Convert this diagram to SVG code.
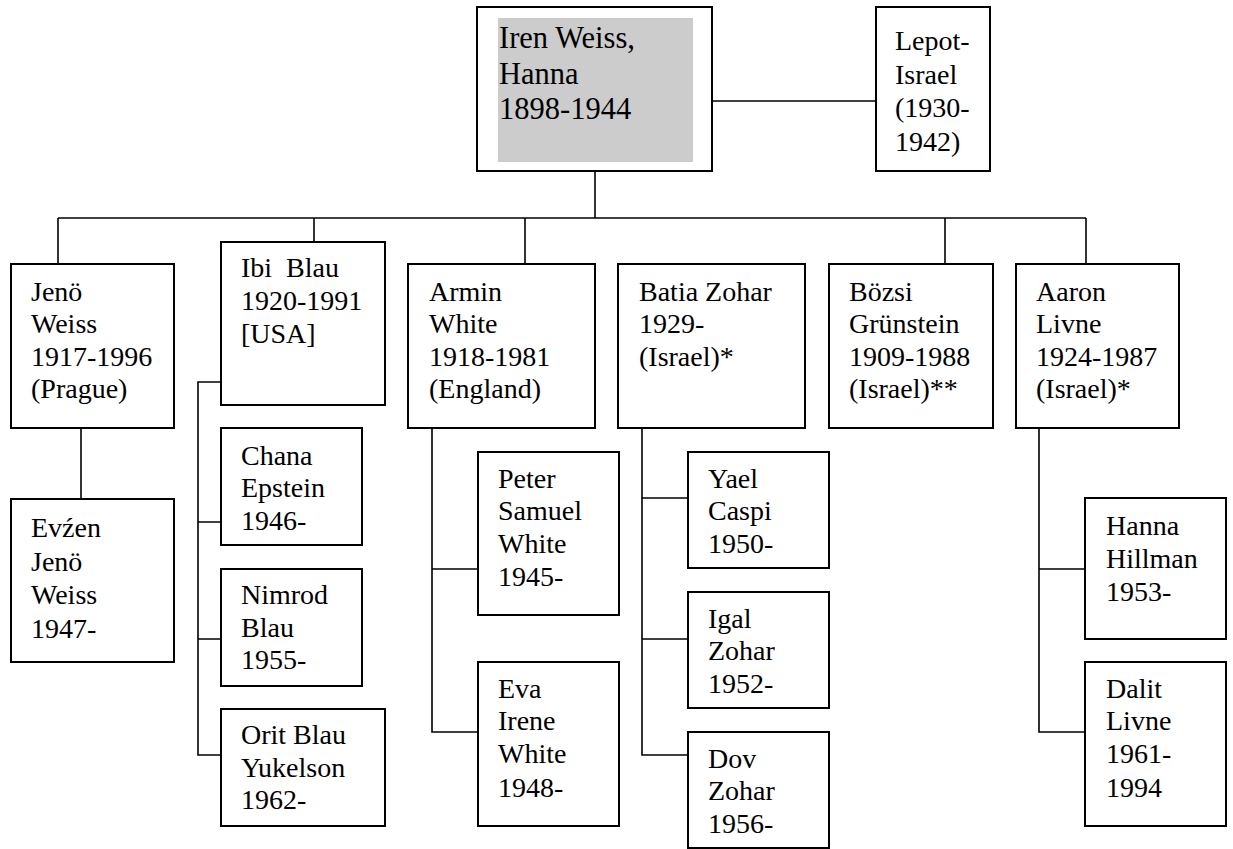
<svg xmlns="http://www.w3.org/2000/svg" width="1233" height="849" viewBox="0 0 1233 849">
<style>
.box{fill:#fff;stroke:#000;stroke-width:2}
.ln{fill:none;stroke:#000;stroke-width:1.6}
text{font-family:"Liberation Serif","Times New Roman",serif;font-size:28px;fill:#000}
.big{font-size:30.5px}
</style>
<rect width="1233" height="849" fill="#fff"/>
<g id="connectors">
<path class="ln" d="M712 101H876"/>
<path class="ln" d="M595 172V218"/>
<path class="ln" d="M58 218H1086"/>
<path class="ln" d="M58 218V264"/>
<path class="ln" d="M314 218V242"/>
<path class="ln" d="M525 218V264"/>
<path class="ln" d="M945 218V264"/>
<path class="ln" d="M1086 218V264"/>
<path class="ln" d="M81 428V499"/>
<path class="ln" d="M221 382H198V755H221M198 522H221M198 639H221"/>
<path class="ln" d="M432 428V732H478M432 569H478"/>
<path class="ln" d="M642 428V755H688M642 498H688M642 639H688"/>
<path class="ln" d="M1039 428V732H1085M1039 569H1085"/>
</g>
<g id="iren">
<rect class="box" x="477" y="7" width="235" height="164"/>
<rect x="498" y="18" width="195" height="144" fill="#cccccc"/>
<text class="big" x="499" y="48"><tspan x="499">Iren Weiss,</tspan><tspan x="499" dy="35.5">Hanna</tspan><tspan x="499" dy="35.5">1898-1944</tspan></text>
</g>
<g id="lepot">
<rect class="box" x="876" y="7" width="114" height="164"/>
<text x="895" y="50"><tspan x="895">Lepot-</tspan><tspan x="895" dy="33.5">Israel</tspan><tspan x="895" dy="33.5">(1930-</tspan><tspan x="895" dy="33.5">1942)</tspan></text>
</g>
<g id="jeno">
<rect class="box" x="11" y="264" width="163" height="164"/>
<text x="31" y="300.5"><tspan x="31">Jenö</tspan><tspan x="31" dy="32.5">Weiss</tspan><tspan x="31" dy="32.5">1917-1996</tspan><tspan x="31" dy="32.5">(Prague)</tspan></text>
</g>
<g id="evzen">
<rect class="box" x="11" y="499" width="163" height="163"/>
<text x="31" y="537"><tspan x="31">Evźen</tspan><tspan x="31" dy="33.5">Jenö</tspan><tspan x="31" dy="33.5">Weiss</tspan><tspan x="31" dy="34">1947-</tspan></text>
</g>
<g id="ibi">
<rect class="box" x="221" y="242" width="164" height="163"/>
<text x="241" y="277" xml:space="preserve"><tspan x="241">Ibi  Blau</tspan><tspan x="241" dy="33">1920-1991</tspan><tspan x="241" dy="33">[USA]</tspan></text>
</g>
<g id="chana">
<rect class="box" x="221" y="428" width="141" height="117"/>
<text x="241" y="464.5"><tspan x="241">Chana</tspan><tspan x="241" dy="32.5">Epstein</tspan><tspan x="241" dy="32.5">1946-</tspan></text>
</g>
<g id="nimrod">
<rect class="box" x="221" y="569" width="141" height="117"/>
<text x="241" y="604"><tspan x="241">Nimrod</tspan><tspan x="241" dy="32.5">Blau</tspan><tspan x="241" dy="32.5">1955-</tspan></text>
</g>
<g id="orit">
<rect class="box" x="221" y="709" width="164" height="117"/>
<text x="241" y="744"><tspan x="241">Orit Blau</tspan><tspan x="241" dy="32.5">Yukelson</tspan><tspan x="241" dy="32.5">1962-</tspan></text>
</g>
<g id="armin">
<rect class="box" x="408" y="264" width="187" height="164"/>
<text x="429" y="300.5"><tspan x="429">Armin</tspan><tspan x="429" dy="32.5">White</tspan><tspan x="429" dy="32.5">1918-1981</tspan><tspan x="429" dy="32.5">(England)</tspan></text>
</g>
<g id="peter">
<rect class="box" x="478" y="452" width="141" height="163"/>
<text x="498" y="487.5"><tspan x="498">Peter</tspan><tspan x="498" dy="32.7">Samuel</tspan><tspan x="498" dy="32.7">White</tspan><tspan x="498" dy="33.5">1945-</tspan></text>
</g>
<g id="eva">
<rect class="box" x="478" y="662" width="141" height="164"/>
<text x="498" y="697.5"><tspan x="498">Eva</tspan><tspan x="498" dy="32.7">Irene</tspan><tspan x="498" dy="33">White</tspan><tspan x="498" dy="33.5">1948-</tspan></text>
</g>
<g id="batia">
<rect class="box" x="618" y="264" width="187" height="164"/>
<text x="639" y="300.5"><tspan x="639">Batia Zohar</tspan><tspan x="639" dy="32.7">1929-</tspan><tspan x="639" dy="32.7">(Israel)*</tspan></text>
</g>
<g id="yael">
<rect class="box" x="688" y="452" width="141" height="116"/>
<text x="708" y="487.5"><tspan x="708">Yael</tspan><tspan x="708" dy="32.7">Caspi</tspan><tspan x="708" dy="33">1950-</tspan></text>
</g>
<g id="igal">
<rect class="box" x="688" y="592" width="141" height="116"/>
<text x="708" y="627.5"><tspan x="708">Igal</tspan><tspan x="708" dy="32.7">Zohar</tspan><tspan x="708" dy="33">1952-</tspan></text>
</g>
<g id="dov">
<rect class="box" x="688" y="732" width="141" height="116"/>
<text x="708" y="767.5"><tspan x="708">Dov</tspan><tspan x="708" dy="32.7">Zohar</tspan><tspan x="708" dy="33">1956-</tspan></text>
</g>
<g id="bozsi">
<rect class="box" x="829" y="264" width="164" height="164"/>
<text x="849" y="300.5"><tspan x="849">Bözsi</tspan><tspan x="849" dy="32.5">Grünstein</tspan><tspan x="849" dy="32.5">1909-1988</tspan><tspan x="849" dy="32.5">(Israel)**</tspan></text>
</g>
<g id="aaron">
<rect class="box" x="1016" y="264" width="163" height="164"/>
<text x="1036" y="300.5"><tspan x="1036">Aaron</tspan><tspan x="1036" dy="32.5">Livne</tspan><tspan x="1036" dy="32.5">1924-1987</tspan><tspan x="1036" dy="32.5">(Israel)*</tspan></text>
</g>
<g id="hanna">
<rect class="box" x="1085" y="498" width="141" height="141"/>
<text x="1106" y="535"><tspan x="1106">Hanna</tspan><tspan x="1106" dy="32.5">Hillman</tspan><tspan x="1106" dy="33">1953-</tspan></text>
</g>
<g id="dalit">
<rect class="box" x="1085" y="662" width="141" height="164"/>
<text x="1106" y="697.5"><tspan x="1106">Dalit</tspan><tspan x="1106" dy="32.7">Livne</tspan><tspan x="1106" dy="33">1961-</tspan><tspan x="1106" dy="33.5">1994</tspan></text>
</g>
</svg>
